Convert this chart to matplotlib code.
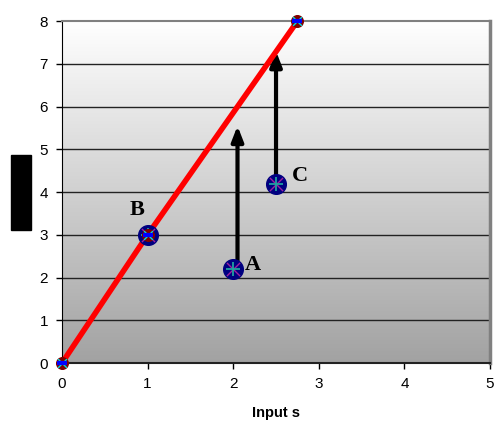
import numpy as np
import matplotlib.pyplot as plt
from matplotlib.patches import Rectangle
from matplotlib.colors import LinearSegmentedColormap

# line through the origin
line_x = [0, 1, 2.75]
line_y = [0, 3, 8]

# labelled points
pt_names = ['A', 'B', 'C']
pt_x = [2, 1, 2.5]
pt_y = [2.2, 3, 4.2]

# vertical arrows (x, start, end)
arrow_x = [2.05, 2.5]
arrow_y0 = [2.2, 4.2]
arrow_y1 = [5.55, 7.3]

xticks = [0, 1, 2, 3, 4, 5]
yticks = [0, 1, 2, 3, 4, 5, 6, 7, 8]

fig = plt.figure(figsize=(4.96, 4.23), dpi=100)
ax = fig.add_axes([0.125, 0.1418, 0.863, 0.8082])

# gray gradient background
grad = LinearSegmentedColormap.from_list('bg', ['#a2a2a2', '#ffffff'])
ax.imshow(np.linspace(0, 1, 256).reshape(-1, 1), cmap=grad, aspect='auto',
          extent=[0, 5, 0, 8], origin='lower', zorder=0)

for y in yticks[1:-1]:
    ax.axhline(y, color='#222222', lw=1.0, zorder=1)

ax.plot(line_x, line_y, color='#ff0000', lw=4, zorder=3, solid_capstyle='butt')

for x, y0, y1 in zip(arrow_x, arrow_y0, arrow_y1):
    ax.annotate('', xy=(x, y1), xytext=(x, y0),
                arrowprops=dict(arrowstyle='-|>,head_width=0.35,head_length=0.9',
                                color='black', lw=3, shrinkA=0, shrinkB=0),
                zorder=2)

ax.scatter(pt_x, pt_y, s=200, color='#000080', zorder=4)
ax.scatter(pt_x, pt_y, s=90, marker='x', color='#a020a0', lw=1, zorder=5)
ax.scatter(pt_x, pt_y, s=110, marker='+', color='#20a0a0', lw=1.3, zorder=6)

# markers on the line points
ax.scatter(line_x, line_y, s=70, color='#800000', zorder=7, clip_on=False)
ax.scatter(line_x, line_y, s=40, marker='x', color='#00e0e0', lw=1, zorder=8, clip_on=False)
ax.scatter(line_x, line_y, s=60, marker='_', color='#0000ff', lw=3, zorder=9, clip_on=False)

label_pos = {'A': (2.23, 2.3), 'B': (0.88, 3.58), 'C': (2.78, 4.38)}
for n in pt_names:
    x, y = label_pos[n]
    ax.text(x, y, n, fontsize=16, fontweight='bold', family='Liberation Serif',
            ha='center', va='center', zorder=10)

ax.set_xlim(0, 5)
ax.set_ylim(0, 8)
ax.set_xticks(xticks)
ax.set_yticks(yticks)
ax.tick_params(labelsize=11, length=4, width=1, color='black', pad=6)
for lab in ax.get_xticklabels() + ax.get_yticklabels():
    lab.set_family('Liberation Sans')

ax.spines['left'].set_color('black')
ax.spines['bottom'].set_color('#222222')
ax.spines['bottom'].set_linewidth(1.5)
ax.spines['top'].set_color('#808080')
ax.spines['top'].set_linewidth(1.5)
ax.spines['right'].set_color('#808080')
ax.spines['right'].set_linewidth(2.5)

ax.set_xlabel('Input s', fontsize=10.5, fontweight='bold', family='Liberation Sans', labelpad=11)

# blacked-out y label box
fig.patches.append(Rectangle((11 / 496, 1 - 230 / 423), 20 / 496, 75 / 423,
                             transform=fig.transFigure, color='black'))

fig.savefig('out.png', dpi=100)
